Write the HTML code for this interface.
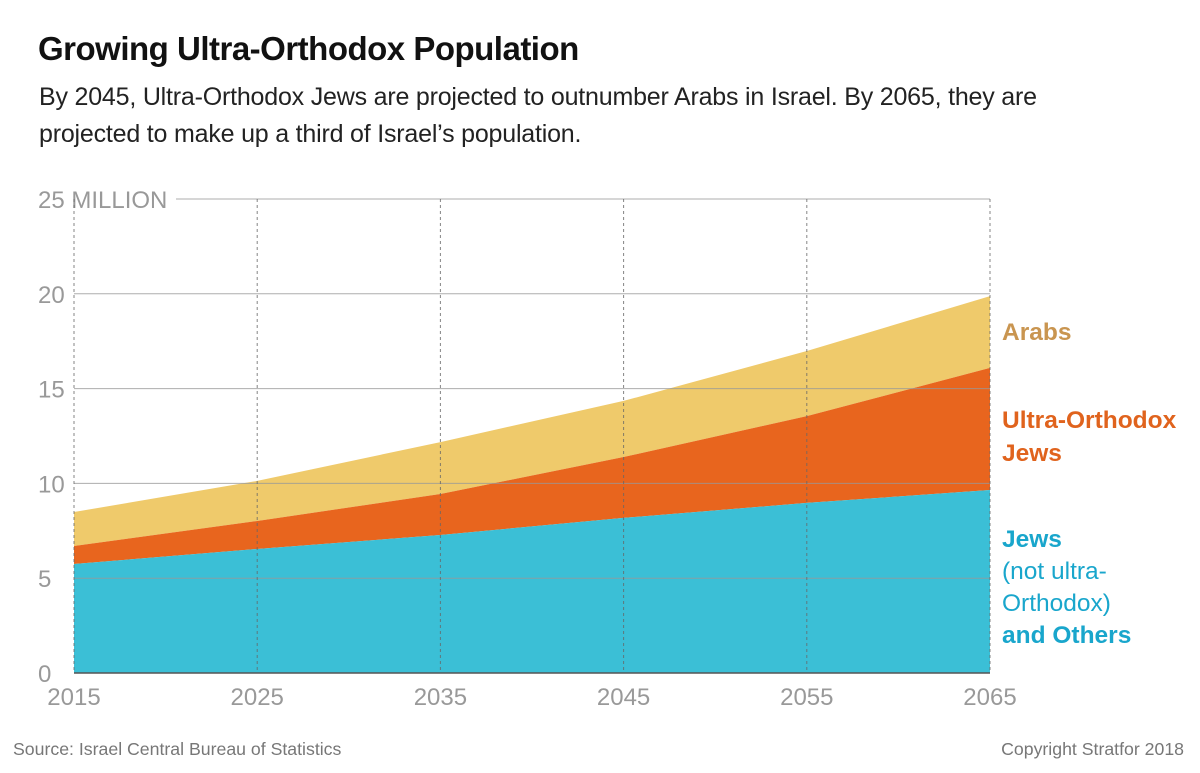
<!DOCTYPE html>
<html><head><meta charset="utf-8">
<style>
body{margin:0;background:#fff;font-family:"Liberation Sans",sans-serif;}
#wrap{position:relative;width:1200px;height:773px;overflow:hidden;}
.t{position:absolute;white-space:nowrap;}
</style></head>
<body>
<div id="wrap">
<div class="t" style="left:38px;top:30px;font-size:33px;font-weight:bold;color:#111;letter-spacing:-0.5px">Growing Ultra-Orthodox Population</div>
<div class="t" style="left:39px;top:79px;font-size:25px;line-height:37px;color:#222;letter-spacing:-0.2px">By 2045, Ultra-Orthodox Jews are projected to outnumber Arabs in Israel. By 2065, they are<br>projected to make up a third of Israel’s population.</div>
<svg id="chart" width="1200" height="773" style="position:absolute;left:0;top:0"></svg>
<div class="t" style="left:13px;top:739px;font-size:17.7px;color:#777">Source: Israel Central Bureau of Statistics</div>
<div class="t" style="right:16px;top:739px;font-size:17.7px;color:#777">Copyright Stratfor 2018</div>
<div class="t" style="left:1002px;top:319px;font-size:24.5px;font-weight:bold;color:#c99550">Arabs</div>
<div class="t" style="left:1002px;top:404px;font-size:24.5px;font-weight:bold;color:#e0631d;line-height:33px">Ultra-Orthodox<br>Jews</div>
<div class="t" style="left:1002px;top:524px;font-size:24.5px;color:#19a6cc;line-height:32px"><b>Jews</b><br>(not ultra-<br>Orthodox)<br><b>and Others</b></div>
</div>
<script>
const years=[2015,2025,2035,2045,2055,2065];
const jews=[5.75,6.54,7.28,8.18,8.97,9.65];
const ultra=[0.95,1.48,2.16,3.21,4.58,6.44];
const arabs=[1.79,2.11,2.74,2.96,3.43,3.79];
const yTicks=[0,5,10,15,20,25];
const svg=document.getElementById('chart');
const NS='http://www.w3.org/2000/svg';
const x=v=>74+(v-2015)*(990-74)/50;
const y=v=>673-v*(673-199)/25;
function mk(tag,attrs){const e=document.createElementNS(NS,tag);for(const k in attrs)e.setAttribute(k,attrs[k]);svg.appendChild(e);return e;}
const c1=jews.map(v=>v),c2=jews.map((v,i)=>v+ultra[i]),c3=c2.map((v,i)=>v+arabs[i]);
function area(top,bot,fill,name){
 let d='M'+years.map((yr,i)=>x(yr)+','+y(top[i])).join('L');
 for(let i=years.length-1;i>=0;i--)d+='L'+x(years[i])+','+y(bot?bot[i]:0);
 const p=mk('path',{d:d+'Z',fill:fill});
 
 
}
area(c3,c2,'#efca6b','area-arabs');
area(c2,c1,'#e8651e','area-ultra-orthodox');
area(c1,null,'#3bbfd6','area-jews-others');
yTicks.forEach(t=>{
 const l=mk('line',{x1:t===25?176:74,x2:990,y1:y(t),y2:y(t),stroke:t===0?'#555':'#999','stroke-width':t===0?1.5:1,'stroke-opacity':t===0?1:0.8});
 
 
 const tx=mk('text',{x:38,y:y(t)+9,'font-size':24,fill:'#999','font-family':'Liberation Sans, sans-serif'});
 tx.textContent=t===25?'25 MILLION':String(t);
 
 
});
years.forEach(yr=>{
 const l=mk('line',{x1:x(yr),x2:x(yr),y1:199,y2:673,stroke:'#666','stroke-width':1,'stroke-dasharray':'3,3','stroke-opacity':0.8});
 
 
 const tx=mk('text',{x:x(yr),y:705,'font-size':24,fill:'#999','text-anchor':'middle','font-family':'Liberation Sans, sans-serif'});
 tx.textContent=yr;
 
 
});
</script>
</body></html>
